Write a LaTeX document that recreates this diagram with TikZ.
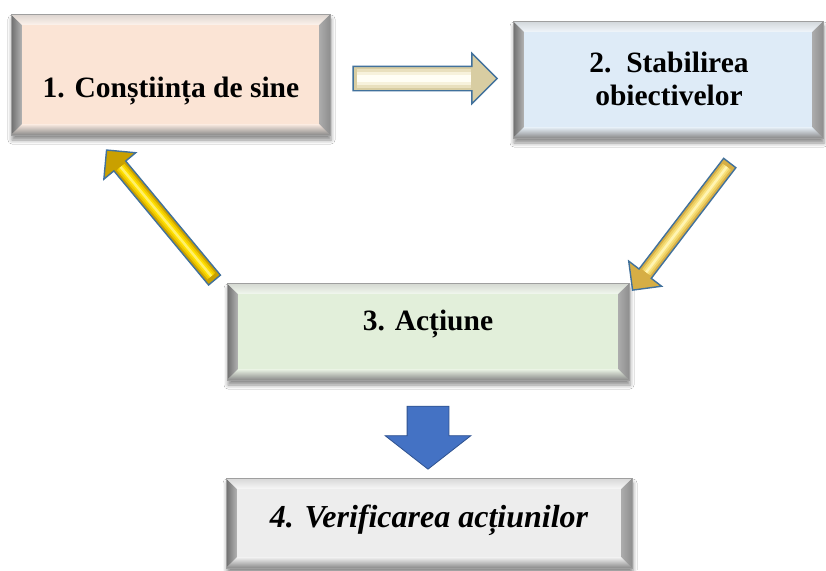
\documentclass[tikz,border=0pt]{standalone}
\usepackage{fontspec}
\setmainfont{Liberation Serif}
\usetikzlibrary{shapes.arrows,shadows.blur,calc}

\definecolor{peach}{HTML}{FBE4D5}
\definecolor{skyface}{HTML}{DEEBF7}
\definecolor{mint}{HTML}{E2EFDA}
\definecolor{ashface}{HTML}{EDEDED}
\definecolor{bevdark}{HTML}{6E6E6E}
\definecolor{bevmid}{HTML}{B4B4B4}
\definecolor{bevright}{HTML}{8E8E8E}
\definecolor{bevbot}{HTML}{8A8A8A}
\definecolor{arrowline}{HTML}{41719C}
\definecolor{royal}{HTML}{4472C4}
\definecolor{royalline}{HTML}{2F528F}
% gold arrow tones, outer to inner
\definecolor{goldA}{HTML}{C9A000}
\definecolor{goldB}{HTML}{EDC600}
\definecolor{goldC}{HTML}{FFDF00}
\definecolor{goldD}{HTML}{FFF06A}
% pale yellow arrow tones
\definecolor{paleA}{HTML}{D6AE45}
\definecolor{paleB}{HTML}{EDCF62}
\definecolor{paleC}{HTML}{F9E27E}
\definecolor{paleD}{HTML}{FFF4B2}
% cream arrow tones
\definecolor{creamA}{HTML}{D8CDA2}
\definecolor{creamB}{HTML}{E9E0BE}
\definecolor{creamC}{HTML}{F7F2DC}
\definecolor{creamD}{HTML}{FFFEF5}

\newcommand\bw{11}
% bevelled box: name, x1, y1, x2, y2, face colour
\newcommand\bevbox[6]{%
  \path[blur shadow={shadow xshift=1pt,shadow yshift=-5pt,
        shadow blur radius=4pt,shadow opacity=45}] (#2,#3) rectangle (#4,#5);
  \shade[left color=bevdark,right color=bevmid]
    (#2,#3) -- ({#2+\bw},{#3+\bw}) -- ({#2+\bw},{#5-\bw}) -- (#2,#5) -- cycle;
  \shade[left color=bevmid!80!bevright,right color=bevright]
    (#4,#3) -- ({#4-\bw},{#3+\bw}) -- ({#4-\bw},{#5-\bw}) -- (#4,#5) -- cycle;
  \shade[top color=#6!55!gray!60,bottom color=#6!45!white]
    (#2,#3) -- (#4,#3) -- ({#4-\bw},{#3+\bw}) -- ({#2+\bw},{#3+\bw}) -- cycle;
  \shade[top color=#6!70!white,bottom color=bevbot]
    ({#2+\bw},{#5-\bw}) -- ({#4-\bw},{#5-\bw}) -- (#4,#5) -- (#2,#5) -- cycle;
  \node[face, fill=#6, minimum width={#4-#2-2*\bw},
        minimum height={#5-#3-2*\bw}] (#1) at ({(#2+#4)/2},{(#3+#5)/2}) {};
  \draw[gray!75, line width=0.6pt] (#2,#3) rectangle (#4,#5);
}

% bevel highlight along an arrow's shaft: name, end fraction, tone prefix, widths
\newcommand\shaftglow[6]{%
  \foreach \wd/\tone in {#4/#3B,#5/#3C,#6/#3D}
    \draw[line width=\wd pt, \tone]
      ($(#1.tail)!0.03!(#1.tip)$) -- ($(#1.tail)!#2!(#1.tip)$);
}

\tikzset{
  face/.style={rectangle, inner sep=0pt, outer sep=0pt},
  label/.style={anchor=base, font=\bfseries\fontsize{29.5}{33}\selectfont, align=center},
  fatarrow/.style={single arrow, inner xsep=0pt, outer sep=0pt,
        single arrow tip angle=90},
  bevarrow/.style={fatarrow, draw=arrowline, line width=1.4pt, fill=#1},
  bluearrow/.style={fatarrow, fill=royal, draw=royalline, line width=0.8pt,
        single arrow tip angle=104}
}

\begin{document}
\begin{tikzpicture}[x=1pt,y=-1pt]
\useasboundingbox[fill=white] (0,0) rectangle (826,570);

\bevbox{b1}{11}{14}{330}{135}{peach}
\bevbox{b2}{513}{21}{823}{138}{skyface}
\bevbox{b3}{227}{283}{629}{380}{mint}
\bevbox{b4}{226}{478}{632}{568}{ashface}

\node[label] (t1) at (171,97) {1. Conștiința de sine};
\node[label] (t2) at (669,105) {2.\ \ Stabilirea\\obiectivelor};
\node[label] (t3) at (428,330) {3. Acțiune};
\node[label, font=\bfseries\itshape\fontsize{32}{36}\selectfont] (t4) at (429,527)
  {4. Verificarea acțiunilor};

% block arrows between the steps
\node[bevarrow=creamA, minimum height=144, inner ysep=11.5pt,
      single arrow head extend=13] (a12) at (419,78.5) {};
\shaftglow{a12}{0.82}{cream}{19}{13}{7}

\node[bevarrow=paleA, rotate=232.6, minimum height=160,
      inner ysep=7pt, single arrow head extend=13] (a23) at (683.5,223.5) {};
\shaftglow{a23}{0.86}{pale}{10}{6}{2.5}

\node[bevarrow=goldA, rotate=129.7, minimum height=169,
      inner ysep=7pt, single arrow head extend=13] (a31) at (163,218) {};
\shaftglow{a31}{0.87}{gold}{10}{6}{2.5}

\node[bluearrow, rotate=-90, minimum height=63, inner ysep=20.5pt,
      single arrow head extend=22] (a34) at (428,429.5) {};
\end{tikzpicture}
\end{document}
